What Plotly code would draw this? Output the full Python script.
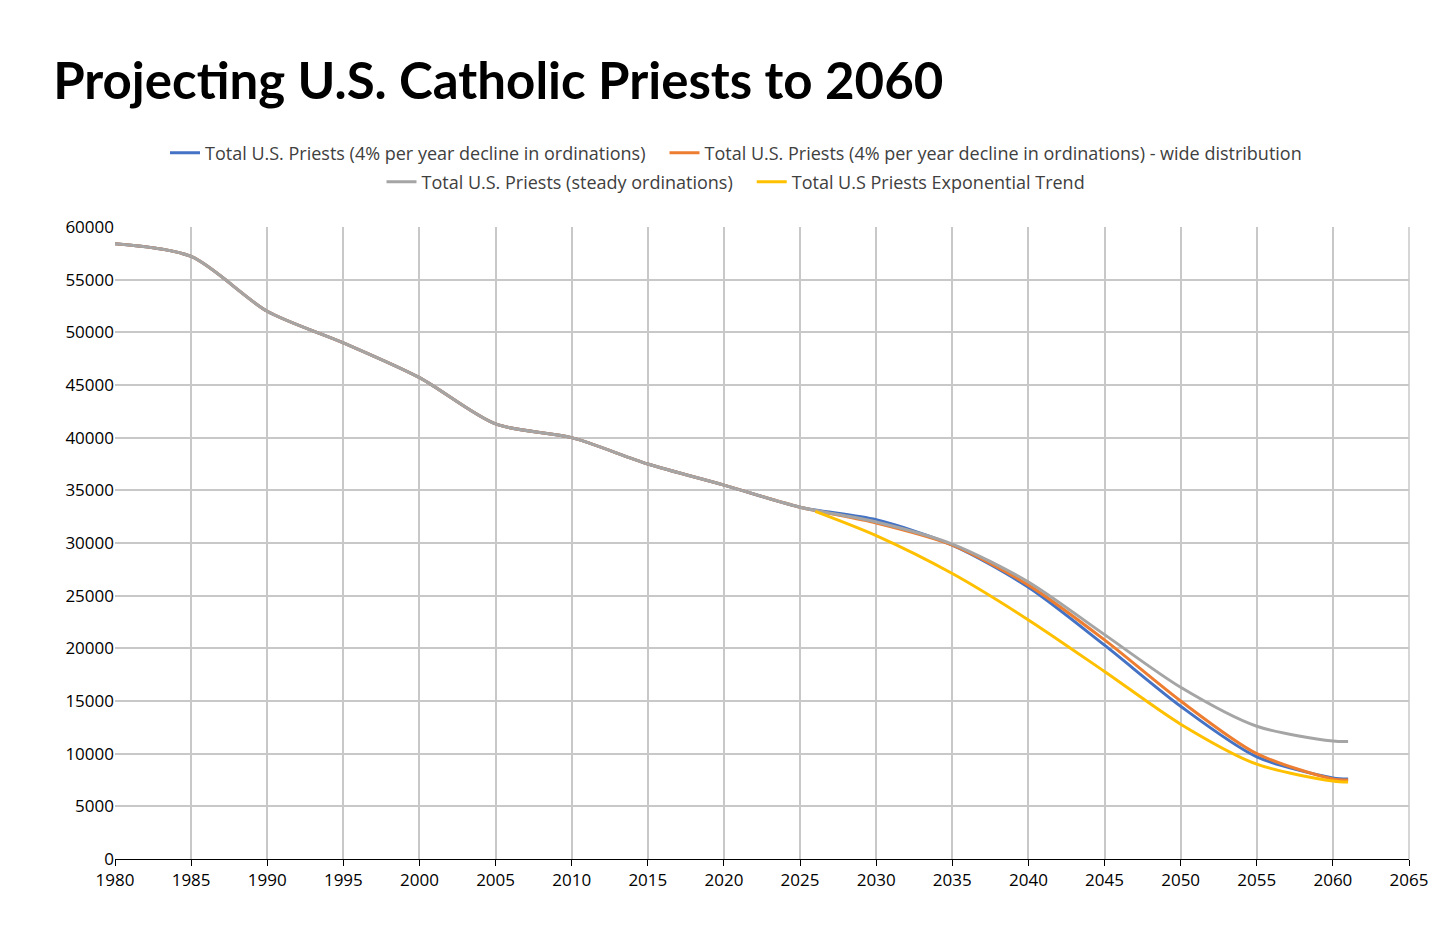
import plotly.graph_objects as go

hist_years = [1980, 1985, 1990, 1995, 2000, 2005, 2010, 2015, 2020, 2025]
hist_vals = [58400, 57200, 52000, 49000, 45700, 41300, 40000, 37500, 35500, 33400]

proj_years = [2025, 2030, 2035, 2040, 2045, 2050, 2055, 2060, 2061]
blue_vals = [33400, 32200, 29800, 25800, 20300, 14500, 9700, 7700, 7600]
orange_vals = [33400, 31900, 29800, 26000, 20800, 15000, 10000, 7600, 7500]
gray_vals = [33400, 32000, 29900, 26300, 21300, 16300, 12600, 11200, 11150]

trend_years = [2026, 2030, 2035, 2040, 2045, 2050, 2055, 2060, 2061]
yellow_vals = [33000, 30700, 27100, 22700, 17800, 12800, 9000, 7400, 7300]

fig = go.Figure()
sp = dict(shape="spline", smoothing=0.8, width=3)
fig.add_trace(go.Scatter(x=hist_years + proj_years[1:], y=hist_vals + blue_vals[1:],
                         name="Total U.S. Priests (4% per year decline in ordinations)   ",
                         mode="lines", line=dict(color="#4472C4", **sp), legend="legend"))
fig.add_trace(go.Scatter(x=hist_years + proj_years[1:], y=hist_vals + orange_vals[1:],
                         name="Total U.S. Priests (4% per year decline in ordinations) - wide distribution",
                         mode="lines", line=dict(color="#ED7D31", **sp), legend="legend"))
fig.add_trace(go.Scatter(x=hist_years + proj_years[1:], y=hist_vals + gray_vals[1:],
                         name="Total U.S. Priests (steady ordinations)   ",
                         mode="lines", line=dict(color="#A5A5A5", **sp), legend="legend2"))
fig.add_trace(go.Scatter(x=trend_years, y=yellow_vals,
                         name="Total U.S Priests Exponential Trend",
                         mode="lines", line=dict(color="#FFC000", **sp), legend="legend2"))

leg = dict(orientation="h", xanchor="center", yanchor="middle", xref="container", yref="container",
           font=dict(size=18, color="#404040"), bgcolor="rgba(0,0,0,0)")
fig.update_layout(
    width=1456, height=940, plot_bgcolor="white", paper_bgcolor="white",
    font=dict(family="Open Sans, Lato, sans-serif", size=17, color="#404040"),
    title=dict(text="<b>Projecting U.S. Catholic Priests to 2060</b>", x=0.031, y=0.922,
               xref="container", yref="container", yanchor="middle",
               font=dict(size=51, color="black", family="Lato, Open Sans, sans-serif")),
    legend=dict(x=0.5, y=1 - 145 / 940, **leg),
    legend2=dict(x=0.5, y=1 - 174 / 940, **leg),
    margin=dict(l=107, r=55, t=219, b=89),
    showlegend=True,
)
fig.update_xaxes(range=[1980, 2065], dtick=5, showgrid=True, gridcolor="#C8C8C8", gridwidth=1.5,
                 showline=True, linecolor="black", ticks="outside", tickcolor="black", ticklen=6,
                 tickfont=dict(color="black", size=17))
fig.update_yaxes(range=[0, 60000], dtick=5000, showgrid=True, gridcolor="#C8C8C8", gridwidth=1.5,
                 zeroline=False, tickformat="d", tickfont=dict(color="black", size=17), ticks="")
fig.add_shape(type="line", xref="paper", yref="paper", x0=1, x1=1, y0=0, y1=1,
              line=dict(color="#C8C8C8", width=1.5))
fig.write_html("out.html")
